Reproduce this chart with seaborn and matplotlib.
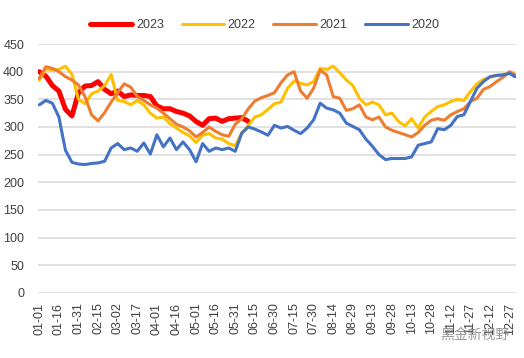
import pandas as pd
import matplotlib
matplotlib.use("Agg")
import matplotlib.pyplot as plt
import seaborn as sns

# ── Data (one value every 5 days) ─────────────────────────
days = list(range(0, 361, 5)) + [364]

y2023 = [400, 392, 375, 365, 332, 320, 362, 374, 375, 382, 368, 360, 365, 355, 358, 357,
         357, 355, 338, 333, 333, 328, 325, 320, 310, 303, 315, 316, 310, 315, 316, 317, 310]

y2022 = [385, 405, 403, 404, 410, 395, 350, 342, 360, 365, 375, 395, 348, 346, 340, 348,
         340, 325, 316, 318, 306, 298, 290, 284, 272, 285, 288, 280, 278, 270, 266, 289,
         303, 318, 322, 332, 342, 345, 370, 383, 379, 376, 382, 406, 404, 410, 398, 385,
         375, 352, 340, 345, 340, 322, 325, 310, 302, 315, 298, 318, 328, 337, 340, 346,
         350, 348, 364, 378, 386, 390, 394, 395, 397, 394]

y2021 = [388, 409, 406, 400, 391, 385, 376, 355, 322, 311, 326, 345, 362, 378, 372, 355,
         348, 340, 334, 325, 315, 305, 300, 293, 282, 290, 300, 292, 286, 283, 305, 315,
         333, 347, 353, 357, 362, 380, 394, 400, 365, 352, 370, 403, 394, 355, 352, 330,
         333, 340, 318, 313, 318, 300, 294, 290, 286, 282, 290, 303, 312, 315, 312, 322,
         328, 333, 346, 352, 368, 373, 382, 390, 400, 395]

y2020 = [340, 348, 343, 318, 258, 236, 233, 232, 234, 235, 238, 262, 270, 259, 262, 256,
         271, 251, 286, 264, 280, 259, 273, 259, 237, 270, 256, 262, 259, 262, 256, 289,
         300, 296, 291, 285, 303, 298, 301, 294, 288, 298, 313, 343, 334, 331, 325, 307,
         301, 295, 278, 265, 250, 241, 243, 243, 243, 246, 267, 270, 273, 297, 295, 303,
         319, 322, 346, 370, 382, 391, 393, 394, 397, 391]

years = ["2023", "2022", "2021", "2020"]
series = [y2023, y2022, y2021, y2020]
colors = {"2023": "#FF0000", "2022": "#FFC000", "2021": "#ED7D31", "2020": "#4472C4"}
widths = {"2023": 3.6, "2022": 2.2, "2021": 2.2, "2020": 2.2}

frames = []
for yr, vals in zip(years, series):
    frames.append(pd.DataFrame({"day": days[:len(vals)], "value": vals, "year": yr}))
df = pd.concat(frames, ignore_index=True)

# date labels for a 365-day year, a tick every 15 days
date_labels = pd.date_range("2023-01-01", periods=365).strftime("%m-%d")
tick_pos = list(range(0, 365, 15))

# ── Plot ──────────────────────────────────────────────────
sns.set_theme(style="white")
plt.rcParams["font.family"] = ["Liberation Sans", "DejaVu Sans"]

fig = plt.figure(figsize=(5.24, 3.58), dpi=100)
ax = fig.add_axes([0.0725, 0.182, 0.9125, 0.695])

sns.lineplot(data=df, x="day", y="value", hue="year", size="year",
             hue_order=years, size_order=years, palette=colors, sizes=widths,
             ax=ax, legend=False)

ax.set_xlim(-1, 365)
ax.set_ylim(0, 450)
ax.set_yticks(range(0, 451, 50))
ax.set_xticks(tick_pos)
ax.set_xticklabels([date_labels[i] for i in tick_pos], rotation=90)
ax.set_xlabel("")
ax.set_ylabel("")
ax.yaxis.grid(True, color="#D9D9D9", lw=1.1)
ax.xaxis.grid(False)
ax.set_axisbelow(True)
for s in ax.spines.values():
    s.set_visible(False)
ax.tick_params(axis="both", length=0, labelsize=9, colors="#404040")
ax.tick_params(axis="y", pad=10)
ax.tick_params(axis="x", pad=7)

fig.legend(handles=ax.lines[:4], labels=years, loc="center",
           bbox_to_anchor=(0.505, 0.930), ncol=4, frameon=False,
           handlelength=3.4, columnspacing=1.4, handletextpad=0.3,
           fontsize=9, labelcolor="#404040")

# watermark
fig.text(0.972, 0.064, "黑金新视野", ha="right", va="center", color="#8C8C8C",
         fontsize=10, family=["Noto Sans CJK SC", "DejaVu Sans"], alpha=0.9)

fig.savefig("out.png", dpi=100)
